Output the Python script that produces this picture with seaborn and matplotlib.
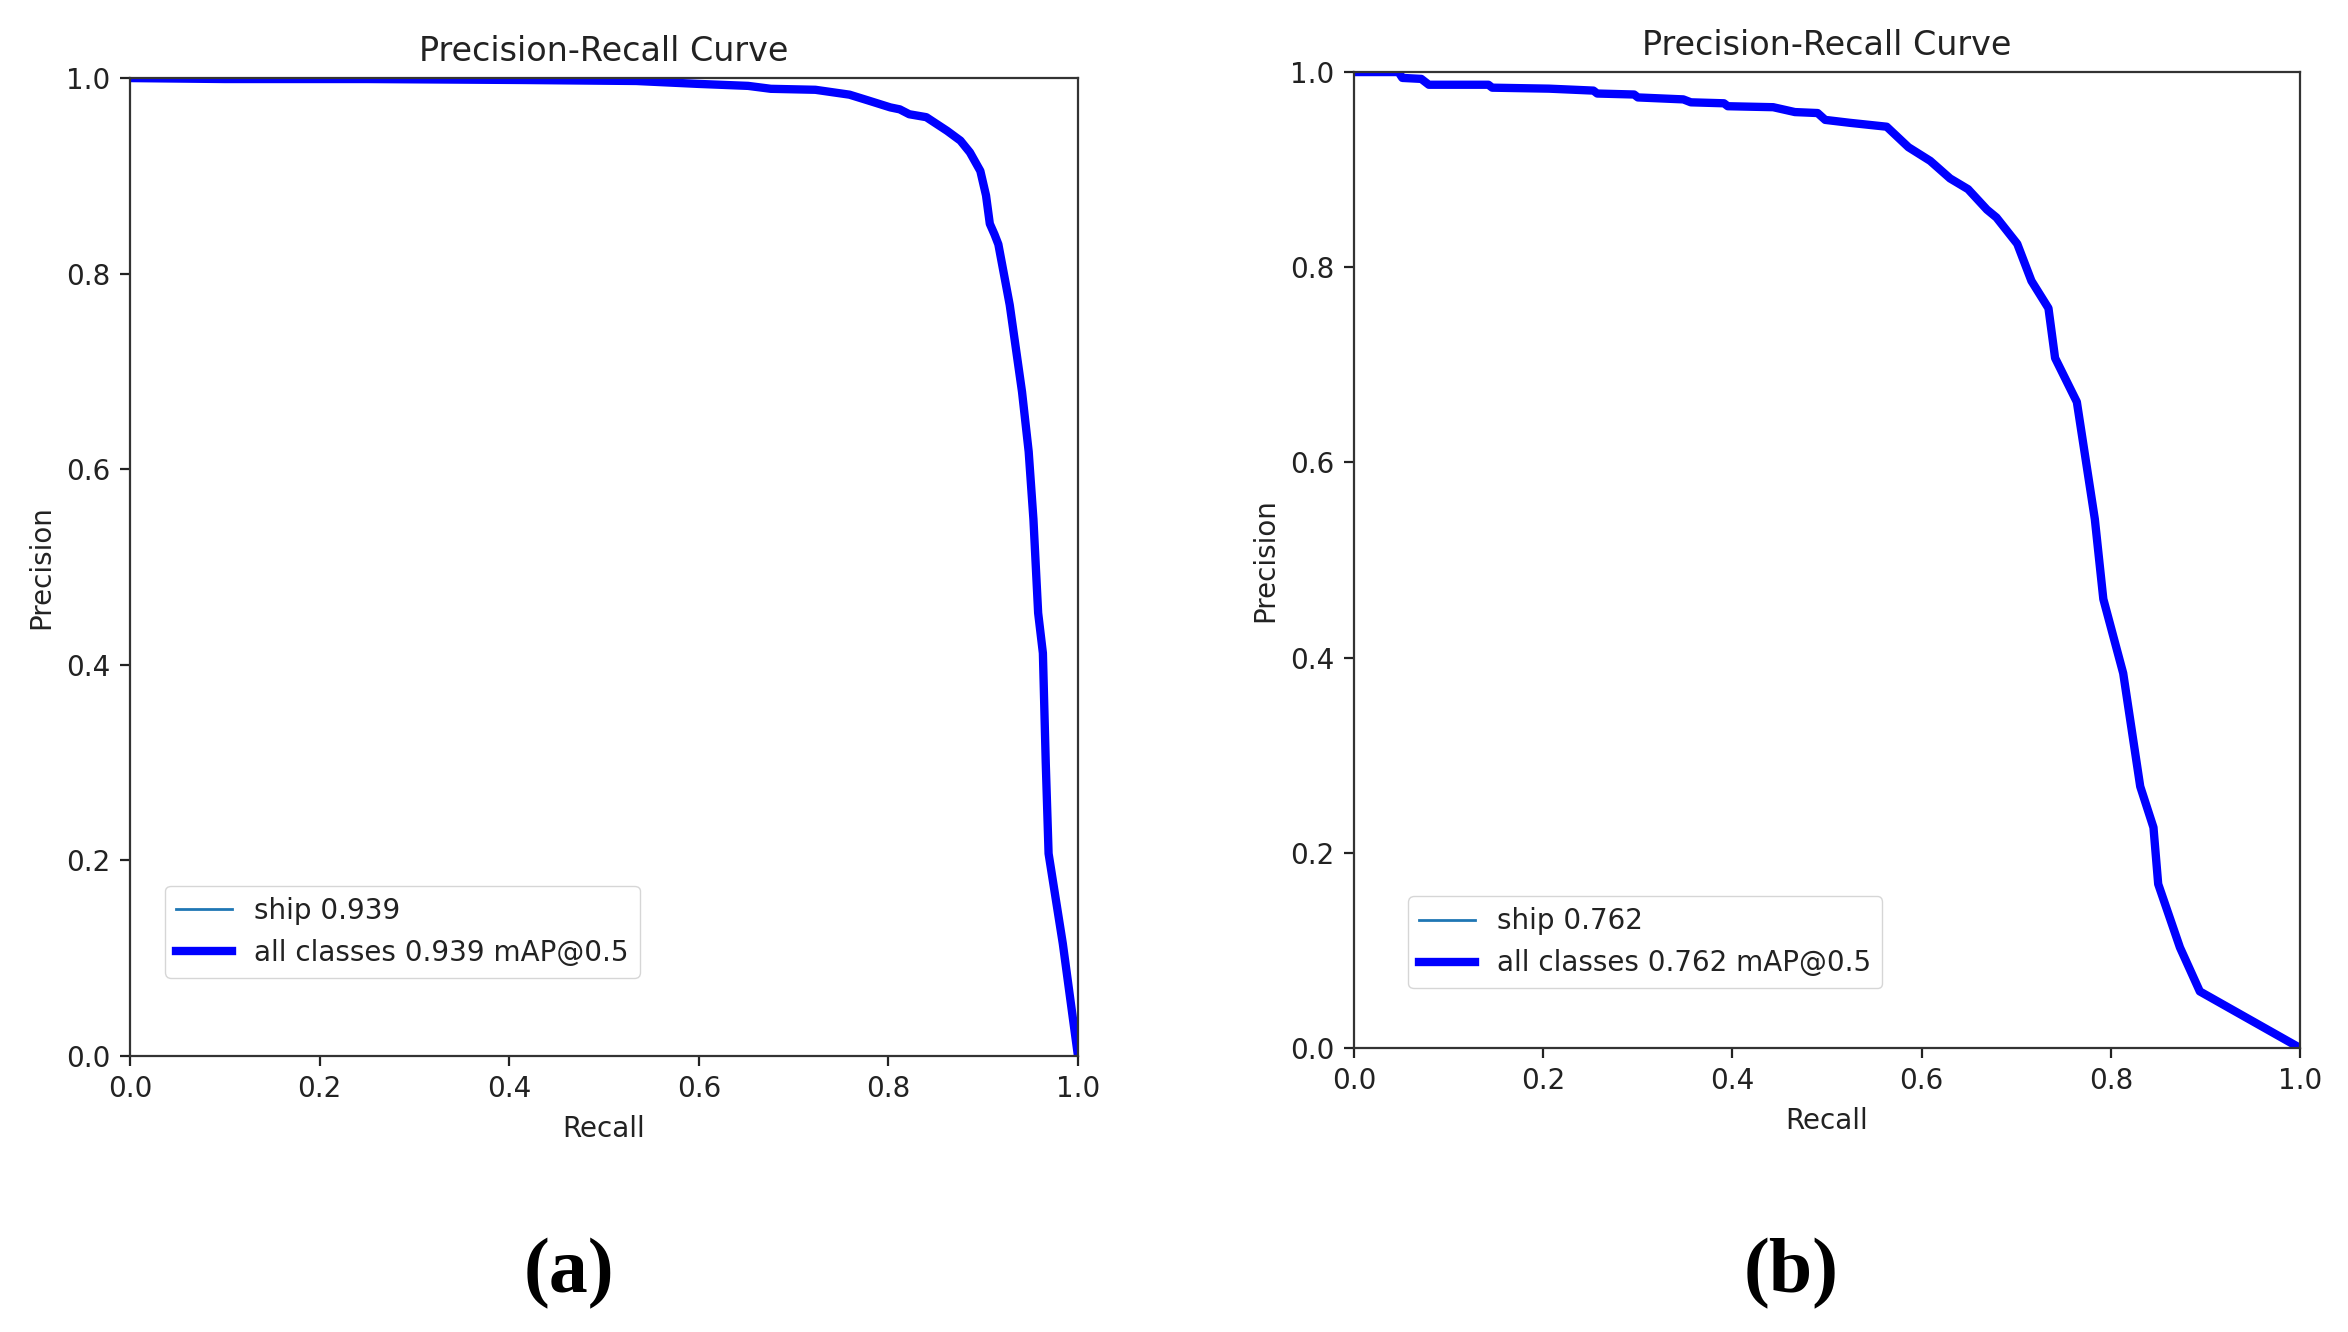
import seaborn as sns
from matplotlib import pyplot as plt
import pandas as pd

# panel (a)
recall_a = [0.0, 0.10, 0.25, 0.415, 0.534, 0.60, 0.652, 0.676, 0.723, 0.759,
            0.779, 0.802, 0.812, 0.822, 0.840, 0.862, 0.876, 0.886, 0.897,
            0.903, 0.907, 0.912, 0.916, 0.928, 0.941, 0.948, 0.953, 0.958,
            0.963, 0.966, 0.969, 0.984, 1.0]
precision_a = [1.0, 0.999, 0.999, 0.998, 0.997, 0.994, 0.992, 0.989, 0.988, 0.983,
               0.977, 0.970, 0.968, 0.963, 0.960, 0.946, 0.936, 0.924, 0.905,
               0.880, 0.851, 0.840, 0.830, 0.768, 0.679, 0.618, 0.549, 0.453,
               0.412, 0.300, 0.207, 0.115, 0.0]

# panel (b)
recall_b = [0.0, 0.047, 0.051, 0.071, 0.079, 0.142, 0.146, 0.206, 0.253, 0.257,
            0.296, 0.300, 0.348, 0.356, 0.391, 0.395, 0.443, 0.466, 0.490,
            0.498, 0.524, 0.563, 0.586, 0.609, 0.630, 0.649, 0.669, 0.679,
            0.701, 0.716, 0.734, 0.741, 0.764, 0.783, 0.792, 0.813, 0.831,
            0.845, 0.850, 0.873, 0.894, 1.0]
precision_b = [1.0, 1.0, 0.994, 0.993, 0.987, 0.987, 0.984, 0.983, 0.981, 0.978,
               0.977, 0.974, 0.972, 0.969, 0.968, 0.965, 0.964, 0.959, 0.958,
               0.951, 0.948, 0.944, 0.923, 0.909, 0.891, 0.880, 0.859, 0.851,
               0.824, 0.786, 0.758, 0.707, 0.662, 0.542, 0.460, 0.384, 0.268,
               0.226, 0.168, 0.103, 0.058, 0.0]

map_a = 0.939
map_b = 0.762

plt.rcParams['font.family'] = ['DejaVu Sans']
plt.rcParams['font.size'] = 20
plt.rcParams['axes.linewidth'] = 1.6
plt.rcParams['axes.edgecolor'] = '#333333'
plt.rcParams['xtick.major.size'] = 7
plt.rcParams['ytick.major.size'] = 7
plt.rcParams['xtick.major.width'] = 1.6
plt.rcParams['ytick.major.width'] = 1.6
plt.rcParams['xtick.major.pad'] = 7
plt.rcParams['ytick.major.pad'] = 7
plt.rcParams['axes.titlepad'] = 12
plt.rcParams['axes.labelpad'] = 8
plt.rcParams['text.color'] = '#222222'
plt.rcParams['axes.labelcolor'] = '#222222'
plt.rcParams['xtick.color'] = '#222222'
plt.rcParams['ytick.color'] = '#222222'

fig = plt.figure(figsize=(23.48, 13.32), dpi=100)
ax_a = fig.add_axes([0.0554, 0.2072, 0.4037, 0.7342])
ax_b = fig.add_axes([0.5767, 0.2132, 0.4029, 0.7327])


def pr_panel(ax, recall, precision, ap, legend_xy):
    df = pd.DataFrame({'Recall': recall, 'Precision': precision})
    sns.lineplot(data=df, x='Recall', y='Precision', ax=ax, estimator=None,
                 sort=False, linewidth=2, color='#1f77b4',
                 label=f'ship {ap:.3f}')
    sns.lineplot(data=df, x='Recall', y='Precision', ax=ax, estimator=None,
                 sort=False, linewidth=6, color='blue',
                 label=f'all classes {ap:.3f} mAP@0.5')
    ax.set_xlim(0, 1)
    ax.set_ylim(0, 1)
    ax.set_title('Precision-Recall Curve', fontsize=24)
    ax.set_xlabel('Recall')
    ax.set_ylabel('Precision')
    ax.legend(loc='lower left', bbox_to_anchor=legend_xy, borderaxespad=0,
              fontsize=20)


pr_panel(ax_a, recall_a, precision_a, map_a, (0.037, 0.08))
pr_panel(ax_b, recall_b, precision_b, map_b, (0.057, 0.061))

fig.text(0.2423, 0.044, '(a)', ha='center', va='center', fontsize=56,
         fontweight='bold', family='Liberation Serif', color='black')
fig.text(0.7628, 0.044, '(b)', ha='center', va='center', fontsize=56,
         fontweight='bold', family='Liberation Serif', color='black')

fig.savefig('out.png', dpi=100)
